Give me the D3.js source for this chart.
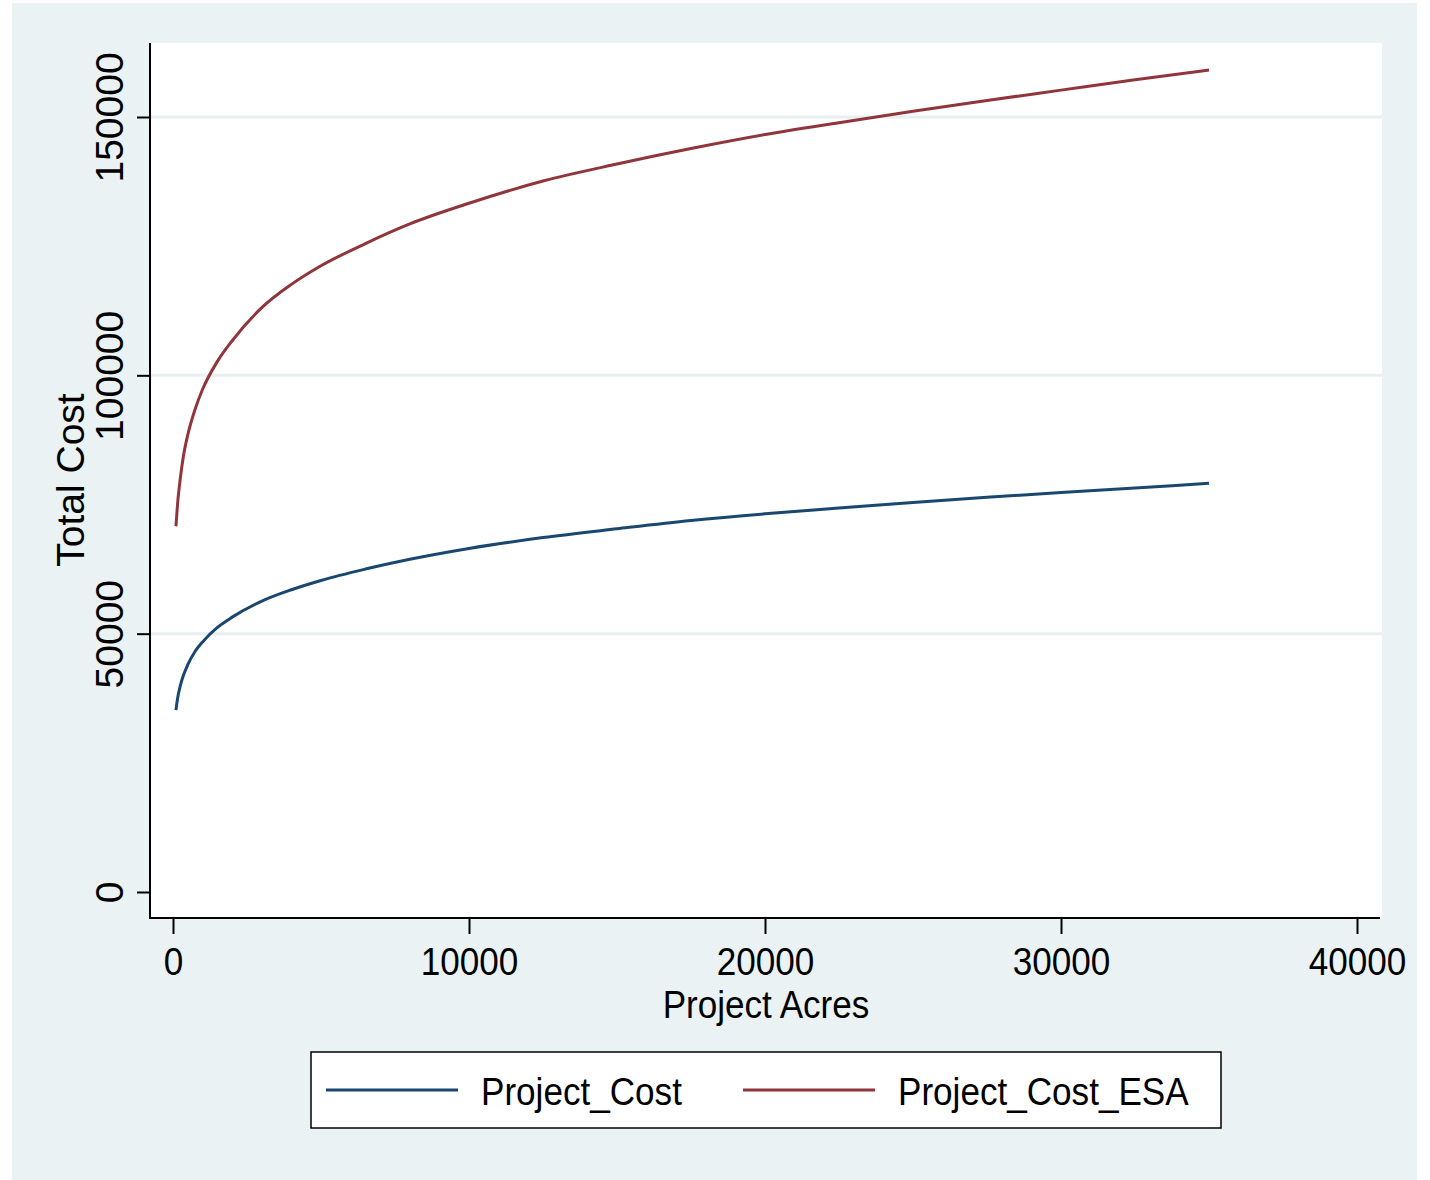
<!DOCTYPE html>
<html>
<head>
<meta charset="utf-8">
<script src="https://cdn.jsdelivr.net/npm/d3@7"></script>
<style>
    body { margin: 0; background: #ffffff; }
    text { font-family: "Liberation Sans", Arial, Helvetica, sans-serif; fill: #000; }
</style>
</head>
<body>
<div class="chart"></div>
<script>
// values
var acres = [100, 150, 250, 350, 500, 750, 1000, 1500, 2000, 3000, 4000, 5000, 6500, 8000,
    10000, 12500, 15000, 17500, 20000, 22500, 25000, 27500, 30000, 32500, 35000];
var projectCost = [35200, 37300, 40000, 41900, 44000, 46600, 48400, 51200, 53200, 56300, 58500, 60300, 62500, 64400,
    66500, 68600, 70300, 71900, 73200, 74300, 75400, 76400, 77300, 78200, 79100];
var projectCostESA = [70800, 74800, 80200, 84300, 88500, 93500, 97300, 102700, 106700, 113100, 117600, 121200, 125500, 129300,
    133300, 137600, 140900, 143900, 146600, 148900, 151100, 153200, 155200, 157200, 159100];
var xTicks = [0, 10000, 20000, 30000, 40000];
var yTicks = [0, 50000, 100000, 150000];
var seriesNames = ["Project_Cost", "Project_Cost_ESA"];
var seriesColors = ["#1a476f", "#90353b"];

var svgWidth = 1430;
var svgHeight = 1180;

// plot region (white box) inside the light outer panel
var plot = { left: 150, top: 43, right: 1382, bottom: 918 };

var svg = d3.select(".chart")
    .append("svg")
    .attr("width", svgWidth)
    .attr("height", svgHeight);

// outer panel and plot background
svg.append("rect")
    .attr("x", 12).attr("y", 3)
    .attr("width", 1405).attr("height", 1177)
    .attr("fill", "#eaf2f3");

svg.append("rect")
    .attr("x", plot.left).attr("y", plot.top)
    .attr("width", plot.right - plot.left).attr("height", plot.bottom - plot.top)
    .attr("fill", "#ffffff");

// scales
var xScale = d3.scaleLinear().domain([0, 40000]).range([173, 1357]);
var yScale = d3.scaleLinear().domain([0, 150000]).range([892, 117]);

// gridlines
svg.append("g")
    .selectAll("line")
    .data(yTicks.filter(function (d) { return d > 0; }))
    .enter()
    .append("line")
    .attr("x1", plot.left)
    .attr("x2", plot.right)
    .attr("y1", function (d) { return yScale(d); })
    .attr("y2", function (d) { return yScale(d); })
    .attr("stroke", "#e7eff1")
    .attr("stroke-width", 3);

// y-axis
var yAxis = d3.axisLeft(yScale)
    .tickValues(yTicks)
    .tickSize(13)
    .tickSizeOuter(0)
    .tickFormat(d3.format("d"));

var yG = svg.append("g")
    .attr("transform", `translate(${plot.left},0)`)
    .call(yAxis);
yG.select(".domain").remove();
yG.selectAll(".tick line").attr("stroke", "#000").attr("stroke-width", 2);
yG.selectAll(".tick text")
    .attr("x", 0)
    .attr("y", -27)
    .attr("dy", 0)
    .attr("text-anchor", "middle")
    .attr("transform", "rotate(-90)")
    .style("font-size", "39px")
    .style("font-family", "'Liberation Sans', Arial, sans-serif");

// x-axis
var xAxis = d3.axisBottom(xScale)
    .tickValues(xTicks)
    .tickSize(16)
    .tickSizeOuter(0)
    .tickFormat(d3.format("d"));

var xG = svg.append("g")
    .attr("transform", `translate(0,${plot.bottom})`)
    .call(xAxis);
xG.select(".domain").remove();
xG.selectAll(".tick line").attr("stroke", "#000").attr("stroke-width", 2);
xG.selectAll(".tick text")
    .attr("y", 57)
    .attr("dy", 0)
    .attr("transform", "scale(0.9,1)")
    .style("font-size", "39px")
    .style("font-family", "'Liberation Sans', Arial, sans-serif");

// axis lines
svg.append("line")
    .attr("x1", plot.left).attr("x2", plot.left)
    .attr("y1", plot.top).attr("y2", plot.bottom + 1)
    .attr("stroke", "#000").attr("stroke-width", 2);
svg.append("line")
    .attr("x1", plot.left - 1).attr("x2", 1380)
    .attr("y1", plot.bottom).attr("y2", plot.bottom)
    .attr("stroke", "#000").attr("stroke-width", 2);

// the two cost lines
var line = d3.line()
    .x(function (d) { return xScale(d[0]); })
    .y(function (d) { return yScale(d[1]); })
    .curve(d3.curveMonotoneX);

[projectCost, projectCostESA].forEach(function (values, i) {
    svg.append("path")
        .datum(acres.map(function (a, j) { return [a, values[j]]; }))
        .attr("d", line)
        .attr("fill", "none")
        .attr("stroke", seriesColors[i])
        .attr("stroke-width", 3);
});

// axis titles
svg.append("text")
    .attr("transform", "translate(766,1018) scale(0.9,1)")
    .attr("text-anchor", "middle")
    .style("font-size", "39px")
    .text("Project Acres");

svg.append("text")
    .attr("transform", "translate(84,480) rotate(-90)")
    .attr("text-anchor", "middle")
    .style("font-size", "39px")
    .text("Total Cost");

// legend
var legend = svg.append("g");
legend.append("rect")
    .attr("x", 311).attr("y", 1052)
    .attr("width", 910).attr("height", 76)
    .attr("fill", "#ffffff")
    .attr("stroke", "#000")
    .attr("stroke-width", 1.5);

var legendX = [326, 743];
seriesNames.forEach(function (name, i) {
    legend.append("line")
        .attr("x1", legendX[i]).attr("x2", legendX[i] + 132)
        .attr("y1", 1090).attr("y2", 1090)
        .attr("stroke", seriesColors[i])
        .attr("stroke-width", 3);
    legend.append("text")
        .attr("transform", `translate(${legendX[i] + 155},1105) scale(0.9,1)`)
        .style("font-size", "39px")
        .text(name);
});
</script>
</body>
</html>
